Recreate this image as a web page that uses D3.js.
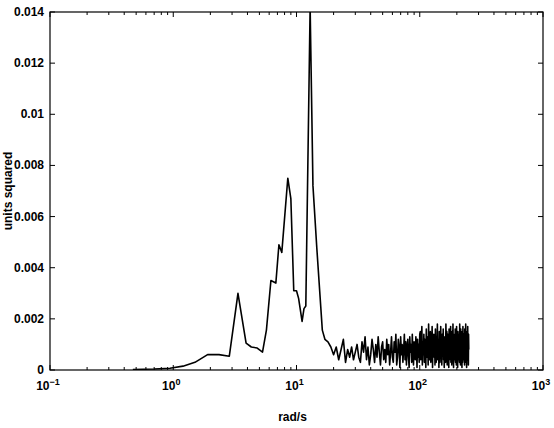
<!DOCTYPE html>
<html>
<head>
<meta charset="utf-8">
<script src="https://cdn.jsdelivr.net/npm/d3@7"></script>
<style>
  body { margin: 0; background: #fff; }
  text { font-family: "Liberation Sans", Arial, sans-serif; font-weight: bold; fill: #000; }
</style>
</head>
<body>
<div id="chart"></div>
<script>
// Chart object holding the drawing methods
APP = {};

/*****
Data
*****/
// low frequency part: rad/s and units squared
let peakFreq = [0.47, 0.7, 0.94, 1.2, 1.5, 1.9, 2.35, 2.85, 3.35, 3.9, 4.3, 4.8, 5.3, 5.7,
  6.2, 6.8, 7.2, 7.6, 8.5, 9.0, 9.5, 10.0, 10.4, 11.1, 11.5, 11.9, 12.9, 13.6, 14.6, 16.2, 17.0];
let peakVal = [0.00002, 0.00004, 0.00007, 0.00015, 0.0003, 0.0006, 0.0006, 0.00054, 0.0030, 0.00105,
  0.0009, 0.00086, 0.0007, 0.00156, 0.0035, 0.0034, 0.0049, 0.0046, 0.0075, 0.0067, 0.0031,
  0.0031, 0.0028, 0.0019, 0.0024, 0.0025, 0.0142, 0.0072, 0.0048, 0.00156, 0.0012];

// noisy part, 18 rad/s up to 250 rad/s, one bin every 1 rad/s
let noiseStart = 18, noiseStep = 1;
let noiseVal = [
  // 18 - 30
  0.0011, 0.0009, 0.0006, 0.0009, 0.0004, 0.0008, 0.0012, 0.0003, 0.0008, 0.0005, 0.0009, 0.0004, 0.0007,
  // 31 - 60
  0.0010, 0.0005, 0.0003, 0.0011, 0.0007, 0.0013, 0.0004, 0.0009, 0.0002, 0.0006,
  0.0012, 0.0008, 0.0003, 0.0010, 0.0005, 0.0013, 0.0007, 0.0002, 0.0009, 0.0011,
  0.0004, 0.0008, 0.0003, 0.0012, 0.0006, 0.0010, 0.0002, 0.0007, 0.0013, 0.0005,
  // 61 - 100
  0.0003, 0.0011, 0.0007, 0.0014, 0.0002, 0.0005, 0.0012, 0.0009, 0.0001, 0.0013,
  0.0006, 0.0010, 0.0003, 0.0008, 0.0014, 0.0004, 0.0011, 0.0002, 0.0009, 0.0012,
  0.0005, 0.0001, 0.0013, 0.0007, 0.0010, 0.0003, 0.0014, 0.0006, 0.0002, 0.0011,
  0.0008, 0.0004, 0.0013, 0.0009, 0.0001, 0.0012, 0.0005, 0.0010, 0.0003, 0.0014,
  // 101 - 250
  0.0015, 0.0004, 0.0009, 0.0017, 0.0002, 0.0011, 0.0006, 0.0014, 0.0003, 0.0012,
  0.0008, 0.0001, 0.0016, 0.0005, 0.0010, 0.0013, 0.0002, 0.0018, 0.0007, 0.0004,
  0.0011, 0.0015, 0.0003, 0.0009, 0.0006, 0.0017, 0.0001, 0.0012, 0.0008, 0.0014,
  0.0005, 0.0010, 0.0002, 0.0016, 0.0007, 0.0003, 0.0013, 0.0009, 0.0018, 0.0004,
  0.0006, 0.0012, 0.0001, 0.0015, 0.0010, 0.0003, 0.0008, 0.0017, 0.0005, 0.0011,
  0.0002, 0.0014, 0.0007, 0.0009, 0.0016, 0.0004, 0.0012, 0.0001, 0.0010, 0.0013,
  0.0006, 0.0003, 0.0018, 0.0008, 0.0005, 0.0015, 0.0002, 0.0011, 0.0014, 0.0007,
  0.0009, 0.0001, 0.0016, 0.0004, 0.0012, 0.0006, 0.0010, 0.0017, 0.0003, 0.0013,
  0.0008, 0.0002, 0.0015, 0.0011, 0.0005, 0.0018, 0.0007, 0.0001, 0.0014, 0.0009,
  0.0004, 0.0012, 0.0006, 0.0016, 0.0003, 0.0010, 0.0013, 0.0002, 0.0017, 0.0008,
  0.0005, 0.0011, 0.0001, 0.0015, 0.0009, 0.0004, 0.0014, 0.0007, 0.0012, 0.0003,
  0.0018, 0.0006, 0.0010, 0.0002, 0.0016, 0.0008, 0.0013, 0.0005, 0.0011, 0.0001,
  0.0015, 0.0007, 0.0003, 0.0017, 0.0009, 0.0012, 0.0004, 0.0014, 0.0006, 0.0010,
  0.0002, 0.0016, 0.0008, 0.0011, 0.0005, 0.0018, 0.0003, 0.0013, 0.0007, 0.0001,
  0.0012, 0.0009, 0.0015, 0.0004, 0.0017, 0.0006, 0.0010, 0.0002, 0.0014, 0.0008];

// axis ticks
let yTicks = [0, 0.002, 0.004, 0.006, 0.008, 0.01, 0.012, 0.014];
let yTickLabels = ["0", "0.002", "0.004", "0.006", "0.008", "0.01", "0.012", "0.014"];
let xDecades = [-1, 0, 1, 2, 3];

let xTitle = "rad/s";
let yTitle = "units squared";

/*****
Size of the page and plot box
*****/
let width = 554, height = 428;
let margin = {top: 12, right: 11, bottom: 58, left: 50};

let svg, x, y;

APP.main = function(){
  APP.initSVG();
  APP.drawAxes();
  APP.drawLine();
};

APP.initSVG = function(){
  svg = d3.select("#chart").append("svg")
    .attr("width", width)
    .attr("height", height);

  x = d3.scaleLog().domain([0.1, 1000]).range([margin.left, width - margin.right]);
  y = d3.scaleLinear().domain([0, 0.014]).range([height - margin.bottom, margin.top]);

  svg.append("clipPath").attr("id", "plotclip")
    .append("rect")
    .attr("x", margin.left).attr("y", margin.top)
    .attr("width", width - margin.left - margin.right)
    .attr("height", height - margin.top - margin.bottom);
};

APP.drawAxes = function(){
  let x0 = margin.left, x1 = width - margin.right;
  let y0 = height - margin.bottom, y1 = margin.top;

  // x ticks: decades and the minors in between, pointing inward, top and bottom
  let xt = [];
  xDecades.forEach(function(d){
    if (d < 3) d3.range(2, 10).forEach(function(m){ xt.push({v: m * Math.pow(10, d), len: 3}); });
    xt.push({v: Math.pow(10, d), len: 5});
  });

  let ticks = svg.append("g").attr("stroke", "#000").attr("stroke-width", 1);
  ticks.selectAll(".xb").data(xt).enter().append("line")
    .attr("x1", d => x(d.v)).attr("x2", d => x(d.v))
    .attr("y1", y0).attr("y2", d => y0 - d.len);
  ticks.selectAll(".xt").data(xt).enter().append("line")
    .attr("x1", d => x(d.v)).attr("x2", d => x(d.v))
    .attr("y1", y1).attr("y2", d => y1 + d.len);

  // y ticks, left and right
  ticks.selectAll(".yl").data(yTicks).enter().append("line")
    .attr("x1", x0).attr("x2", x0 + 5)
    .attr("y1", d => y(d)).attr("y2", d => y(d));
  ticks.selectAll(".yr").data(yTicks).enter().append("line")
    .attr("x1", x1).attr("x2", x1 - 5)
    .attr("y1", d => y(d)).attr("y2", d => y(d));

  // frame
  svg.append("rect")
    .attr("x", x0).attr("y", y1)
    .attr("width", x1 - x0).attr("height", y0 - y1)
    .attr("fill", "none").attr("stroke", "#000").attr("stroke-width", 1.2);

  // y tick labels
  svg.selectAll(".ylab").data(yTicks).enter().append("text")
    .attr("x", x0 - 6)
    .attr("y", d => y(d) + 4)
    .attr("text-anchor", "end")
    .attr("font-size", 12)
    .text((d, i) => yTickLabels[i]);

  // x tick labels as 10 with a superscript
  let xl = svg.selectAll(".xlab").data(xDecades).enter().append("text")
    .attr("x", d => x(Math.pow(10, d)) - 2)
    .attr("y", y0 + 20)
    .attr("text-anchor", "middle")
    .attr("font-size", 12);
  xl.append("tspan").text("10");
  xl.append("tspan").attr("dy", -5).attr("font-size", 9)
    .text(d => d < 0 ? "\u2212" + (-d) : d);

  // titles
  svg.append("text")
    .attr("x", (x0 + x1) / 2 - 4)
    .attr("y", 421)
    .attr("text-anchor", "middle")
    .attr("font-size", 12)
    .text(xTitle);

  svg.append("text")
    .attr("transform", "translate(12," + ((y0 + y1) / 2) + ") rotate(-90)")
    .attr("text-anchor", "middle")
    .attr("font-size", 12)
    .text(yTitle);
};

APP.drawLine = function(){
  let pts = peakFreq.map((f, i) => [f, peakVal[i]]);
  noiseVal.forEach(function(v, i){ pts.push([noiseStart + i * noiseStep, v]); });

  let line = d3.line().x(d => x(d[0])).y(d => y(d[1]));

  svg.append("path")
    .datum(pts)
    .attr("clip-path", "url(#plotclip)")
    .attr("d", line)
    .attr("fill", "none")
    .attr("stroke", "#000")
    .attr("stroke-width", 1.6)
    .attr("stroke-linejoin", "round");
};

APP.main();
</script>
</body>
</html>
